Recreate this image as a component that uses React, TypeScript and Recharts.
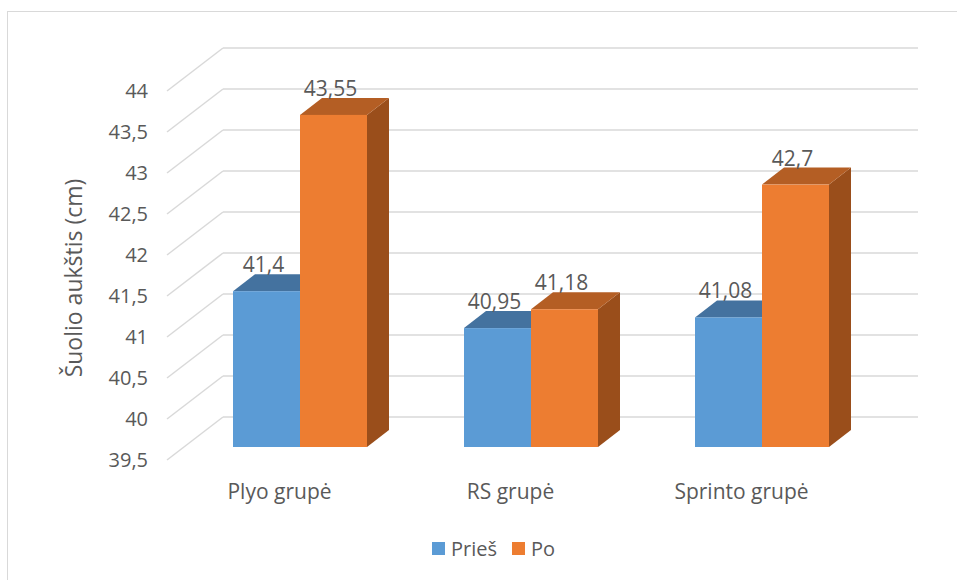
import React from 'react';
import { BarChart, Bar, XAxis, YAxis, CartesianGrid, LabelList, Legend } from 'recharts';

const categories = ['Plyo grupė', 'RS grupė', 'Sprinto grupė'];
const priesValues = [41.4, 40.95, 41.08];
const poValues = [43.55, 41.18, 42.7];
const yTicks = [39.5, 40, 40.5, 41, 41.5, 42, 42.5, 43, 43.5, 44];

const data = categories.map((c, i) => ({ name: c, pries: priesValues[i], po: poValues[i] }));

const FONT = '"Open Sans", sans-serif';
const TXT = '#595959';
const GRID = '#d9d9d9';
// 3D offsets
const WALL_DX = 56;
const WALL_DY = -43;
const WALL_RIGHT = 918;
const BAR_DX = 17;
const BAR_DY = -13;
const DEPTH_DX = 22;
const DEPTH_DY = -17;

const fmt = (v: number) => String(v).replace('.', ',');

const makeShape = (front: string, top: string, side: string) => (props: any) => {
  const { x, y, width, height } = props;
  const fx = x + BAR_DX;
  const fy = y + BAR_DY;
  const fb = y + height + BAR_DY;
  const w = width;
  return (
    <g>
      <polygon
        points={`${fx + w},${fy} ${fx + w + DEPTH_DX},${fy + DEPTH_DY} ${fx + w + DEPTH_DX},${fb + DEPTH_DY} ${fx + w},${fb}`}
        fill={side}
      />
      <polygon
        points={`${fx},${fy} ${fx + DEPTH_DX},${fy + DEPTH_DY} ${fx + w + DEPTH_DX},${fy + DEPTH_DY} ${fx + w},${fy}`}
        fill={top}
      />
      <rect x={fx} y={fy} width={w} height={fb - fy} fill={front} />
    </g>
  );
};

const blueShape = makeShape('#5B9BD5', '#44729F', '#3F6A94');
const orangeShape = makeShape('#ED7D31', '#B45E24', '#9A4E1B');

const renderLabel = (props: any) => {
  const { x, y, width, value } = props;
  return (
    <text
      x={x + BAR_DX + width / 2 - 3}
      y={y + BAR_DY - 19}
      textAnchor="middle"
      fill={TXT}
      fontSize={21}
      fontFamily={FONT}
    >
      {fmt(value)}
    </text>
  );
};

const gridLine = (props: any) => {
  const { x1, y1 } = props;
  return (
    <g key={props.key ?? `g-${y1}`}>
      <line x1={x1} y1={y1} x2={x1 + WALL_DX} y2={y1 + WALL_DY} stroke={GRID} strokeWidth={1.5} />
      <line x1={x1 + WALL_DX} y1={y1 + WALL_DY} x2={WALL_RIGHT} y2={y1 + WALL_DY} stroke={GRID} strokeWidth={1.5} />
    </g>
  );
};

const YTick = (props: any) => {
  const { y, payload } = props;
  return (
    <text x={148} y={y} dy={7} textAnchor="end" fill={TXT} fontSize={20} fontFamily={FONT}>
      {fmt(payload.value)}
    </text>
  );
};

const XTick = (props: any) => {
  const { x, payload } = props;
  return (
    <text x={x - 3} y={499} textAnchor="middle" fill={TXT} fontSize={21} fontFamily={FONT}>
      {payload.value}
    </text>
  );
};

const LegendContent = () => (
  <div
    style={{
      display: 'flex',
      justifyContent: 'center',
      alignItems: 'center',
      fontFamily: FONT,
      fontSize: 20,
      color: TXT,
      paddingLeft: 30,
    }}
  >
    <span style={{ display: 'inline-block', width: 13, height: 13, background: '#5B9BD5', marginRight: 6 }} />
    <span style={{ marginRight: 15 }}>Prieš</span>
    <span style={{ display: 'inline-block', width: 13, height: 13, background: '#ED7D31', marginRight: 6 }} />
    <span>Po</span>
  </div>
);

export default function App() {
  return (
    <div style={{ position: 'absolute', left: 0, top: 0, width: 957, height: 580, background: '#fff' }}>
      <div
        style={{
          position: 'absolute',
          left: 7,
          top: 11,
          width: 960,
          height: 580,
          borderLeft: '1px solid #d9d9d9',
          borderTop: '1px solid #d9d9d9',
        }}
      />
      <div style={{ position: 'absolute', left: 0, top: 0 }}>
        <BarChart
          width={957}
          height={580}
          data={data}
          margin={{ top: 91, right: 97, bottom: 80, left: 107 }}
          barGap={0}
          barSize={67}
        >
          <CartesianGrid vertical={false} horizontal={gridLine} />
          <XAxis
            dataKey="name"
            axisLine={false}
            tickLine={false}
            height={40}
            tick={<XTick />}
            interval={0}
          />
          <YAxis
            domain={[39.5, 44]}
            ticks={yTicks}
            axisLine={false}
            tickLine={false}
            width={60}
            tick={<YTick />}
            interval={0}
            allowDataOverflow
            label={() => (
              <text
                x={0}
                y={0}
                transform="translate(82, 278) rotate(-90)"
                textAnchor="middle"
                fill={TXT}
                fontSize={23}
                fontFamily={FONT}
              >
                Šuolio aukštis (cm)
              </text>
            )}
          />
          <Legend
            layout="horizontal"
            verticalAlign="middle"
            align="center"
            wrapperStyle={{ position: 'absolute', left: 0, top: 535, width: 957 }}
            content={<LegendContent />}
          />
          <Bar dataKey="pries" name="Prieš" shape={blueShape} isAnimationActive={false}>
            <LabelList dataKey="pries" content={renderLabel} />
          </Bar>
          <Bar dataKey="po" name="Po" shape={orangeShape} isAnimationActive={false}>
            <LabelList dataKey="po" content={renderLabel} />
          </Bar>
        </BarChart>
      </div>
    </div>
  );
}
